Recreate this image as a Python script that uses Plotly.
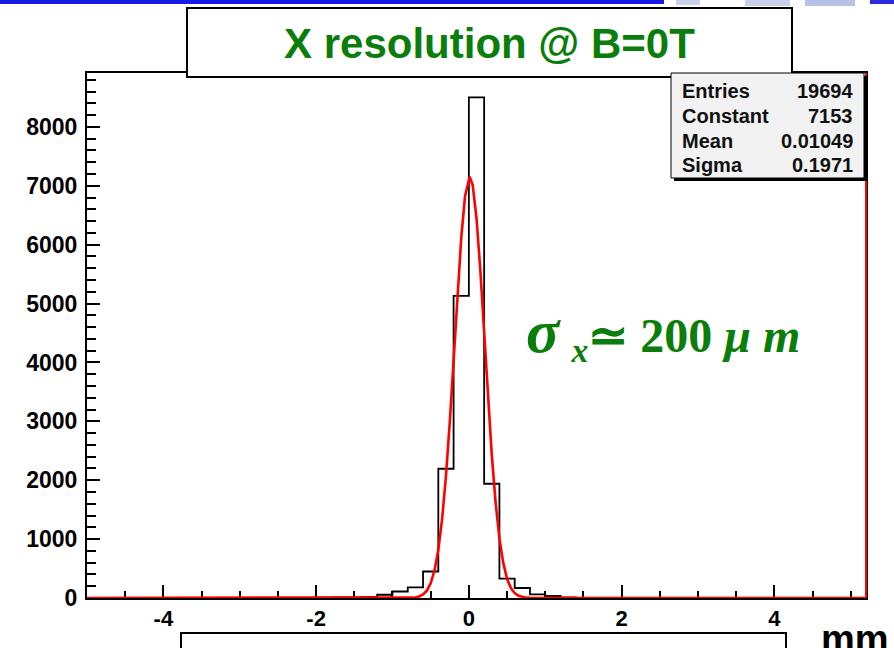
import plotly.graph_objects as go

# ---------------- data ----------------
bin_edges = [-2.0, -1.8, -1.6, -1.4, -1.2, -1.0, -0.8, -0.6, -0.4, -0.2,
             0.0, 0.2, 0.4, 0.6, 0.8, 1.0, 1.2, 1.4]
bin_counts = [8, 10, 12, 20, 55, 110, 180, 450, 2195, 5130,
              8500, 1940, 330, 170, 62, 34, 10]

fit_x = [-0.8, -0.75, -0.7, -0.65, -0.6, -0.55, -0.5, -0.45, -0.4, -0.35,
         -0.3, -0.25, -0.2, -0.15, -0.1, -0.05, 0.0, 0.01, 0.05, 0.1, 0.15,
         0.2, 0.25, 0.3, 0.35, 0.4, 0.45, 0.5, 0.55, 0.6, 0.65, 0.7, 0.75, 0.8]
fit_y = [2, 4, 11, 26, 59, 125, 250, 467, 818, 1342,
         2068, 2987, 4045, 5134, 6113, 6824, 7143, 7153, 7011, 6452, 5568,
         4506, 3419, 2431, 1624, 1015, 596, 327, 169, 82, 37, 16, 6, 2]

x_range = [-5.0, 5.2]
y_range = [0, 8915]
x_tick_vals = [-4, -2, 0, 2, 4]
y_tick_vals = [0, 1000, 2000, 3000, 4000, 5000, 6000, 7000, 8000]

title_text = "X resolution @ B=0T"
stats_labels = ["Entries", "Constant", "Mean", "Sigma"]
stats_values = ["19694", "7153", "0.01049", "0.1971"]

# ---------------- geometry helpers (pixel -> paper) ----------------
W, H = 894, 648
L, R, T, B = 87, 866, 73, 598


def px(x):
    return (x - L) / (R - L)


def py(y):
    return (B - y) / (B - T)


GREEN = "#0a7d0a"
SANS = "Liberation Sans, Arial, sans-serif"
SERIF = "Liberation Serif, Times New Roman, serif"

fig = go.Figure()

# histogram outline
hx = [x_range[0]] + bin_edges + [x_range[1]]
hy = [0] + bin_counts + [0, 0]
fig.add_trace(go.Scatter(x=hx, y=hy, mode="lines", line_shape="hv",
                         line=dict(color="black", width=1.8),
                         hoverinfo="skip", showlegend=False))

# gaussian fit
fx = [x_range[0]] + fit_x + [x_range[1]]
fy = [0] + fit_y + [0]
fig.add_trace(go.Scatter(x=fx, y=fy, mode="lines",
                         line=dict(color="#ff0000", width=2.6),
                         hoverinfo="skip", showlegend=False))

shapes = []
# right edge red line
shapes.append(dict(type="line", xref="paper", yref="paper",
                   x0=1, x1=1, y0=0, y1=1,
                   line=dict(color="#ff0000", width=2), layer="above"))

# top blue banner strip
shapes.append(dict(type="rect", xref="paper", yref="paper",
                   x0=px(0), x1=px(664), y0=py(0), y1=py(4),
                   fillcolor="#1a1ae6", line=dict(width=0), layer="above"))
shapes.append(dict(type="rect", xref="paper", yref="paper",
                   x0=px(676), x1=px(700), y0=py(0), y1=py(5),
                   fillcolor="#c8d0ea", line=dict(width=0), layer="above"))
shapes.append(dict(type="rect", xref="paper", yref="paper",
                   x0=px(745), x1=px(790), y0=py(0), y1=py(6),
                   fillcolor="#c8d0ea", line=dict(width=0), layer="above"))
shapes.append(dict(type="rect", xref="paper", yref="paper",
                   x0=px(805), x1=px(855), y0=py(0), y1=py(6),
                   fillcolor="#b8c2e6", line=dict(width=0), layer="above"))
shapes.append(dict(type="rect", xref="paper", yref="paper",
                   x0=px(870), x1=px(894), y0=py(0), y1=py(4),
                   fillcolor="#2a2ae0", line=dict(width=0), layer="above"))

# title box
shapes.append(dict(type="rect", xref="paper", yref="paper",
                   x0=px(187), x1=px(792), y0=py(77), y1=py(8),
                   fillcolor="white", line=dict(color="black", width=2),
                   layer="above"))

# stats box: shadow then box
shapes.append(dict(type="rect", xref="paper", yref="paper",
                   x0=px(674), x1=px(867), y0=py(181), y1=py(76),
                   fillcolor="black", line=dict(width=0), layer="above"))
shapes.append(dict(type="rect", xref="paper", yref="paper",
                   x0=px(671), x1=px(864), y0=py(178), y1=py(73),
                   fillcolor="#f2f2f2", line=dict(color="black", width=1),
                   layer="above"))

# bottom (x-title) box
shapes.append(dict(type="rect", xref="paper", yref="paper",
                   x0=px(181), x1=px(786), y0=py(660), y1=py(633),
                   fillcolor="white", line=dict(color="black", width=2),
                   layer="above"))

annotations = []
annotations.append(dict(xref="paper", yref="paper", x=px(489), y=py(44),
                        text="<b>" + title_text + "</b>", showarrow=False,
                        xanchor="center", yanchor="middle",
                        font=dict(family=SANS, size=42, color=GREEN)))

row_y = [91, 116, 141, 165]
for lab, val, ry in zip(stats_labels, stats_values, row_y):
    annotations.append(dict(xref="paper", yref="paper", x=px(680), y=py(ry),
                            text="<b>" + lab + "</b>", showarrow=False,
                            xanchor="left", yanchor="middle",
                            font=dict(family=SANS, size=20, color="#111111")))
    annotations.append(dict(xref="paper", yref="paper", x=px(855), y=py(ry),
                            text="<b>" + val + "</b>", showarrow=False,
                            xanchor="right", yanchor="middle",
                            font=dict(family=SANS, size=20, color="#111111")))

annotations.append(dict(
    xref="paper", yref="paper", x=px(524), y=py(333),
    text=('<b><i><span style="font-size:62px">σ</span></i> '
          '<sub><i>x</i></sub>≃ 200 <i>μ m</i></b>'),
    showarrow=False, xanchor="left", yanchor="middle",
    font=dict(family=SERIF, size=48, color=GREEN)))

annotations.append(dict(xref="paper", yref="paper", x=px(819), y=py(616),
                        text="<b>mm</b>", showarrow=False,
                        xanchor="left", yanchor="top",
                        font=dict(family=SANS, size=38, color="black")))

fig.update_layout(
    width=W, height=H,
    margin=dict(l=L, r=W - R, t=T, b=H - B),
    paper_bgcolor="white", plot_bgcolor="white",
    shapes=shapes, annotations=annotations,
    showlegend=False,
    xaxis=dict(range=x_range, tickvals=x_tick_vals,
               ticktext=[str(v) for v in x_tick_vals],
               ticks="inside", ticklen=13, tickwidth=1.5, tickcolor="black",
               minor=dict(dtick=0.5, tick0=0, ticks="inside", ticklen=7,
                          tickwidth=1.5, tickcolor="black", showgrid=False),
               showgrid=False, zeroline=False,
               showline=True, linecolor="black", linewidth=2, mirror=True,
               tickfont=dict(family=SANS, size=22, color="black", weight="bold"),
               layer="below traces"),
    yaxis=dict(range=y_range, tickvals=y_tick_vals,
               ticktext=[str(v) for v in y_tick_vals],
               ticks="inside", ticklen=13, tickwidth=1.5, tickcolor="black",
               minor=dict(dtick=200, tick0=0, ticks="inside", ticklen=9,
                          tickwidth=1.5, tickcolor="black", showgrid=False),
               showgrid=False, zeroline=False,
               showline=True, linecolor="black", linewidth=2, mirror=True,
               tickfont=dict(family=SANS, size=23, color="black", weight="bold"),
               ticklabelstandoff=3,
               layer="below traces"),
)

fig.write_html("out.html")
